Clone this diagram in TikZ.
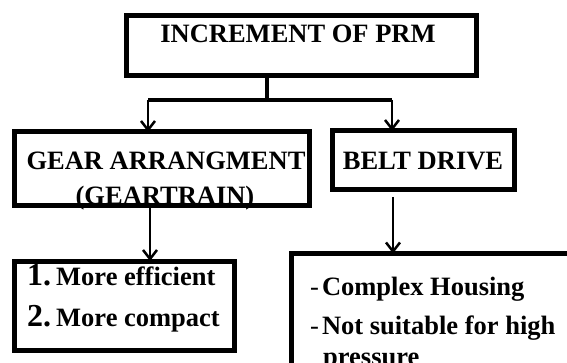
\documentclass[tikz,border=0pt]{standalone}
\usepackage{fontspec}
\setmainfont{Liberation Serif}
\usetikzlibrary{positioning,arrows.meta}

\begin{document}
\begin{tikzpicture}[
    x=1pt, y=-1pt,
    box/.style={draw=black, line width=5pt, inner sep=0pt, outer sep=0pt},
    lbl/.style={font=\fontsize{26.5}{30}\selectfont\bfseries, inner sep=0pt},
    wire/.style={draw=black, line width=4pt},
    arr/.style={draw=black, line width=2.5pt, -{Straight Barb[length=9pt,width=14pt]}},
  ]
  \useasboundingbox (0,0) rectangle (567,363);

  % Boxes.
  \node[box, minimum width=350pt, minimum height=60pt] (prm) at (301.5,45.5) {};
  \node[box, minimum width=295pt, minimum height=73.5pt] (gear) at (161.5,168.75) {};
  \node[box, minimum width=182pt, minimum height=58.5pt] (belt) at (423.5,160.25) {};
  \node[box, minimum width=220.5pt, minimum height=89pt] (pros) at (124.25,305.5) {};
  \node[box, anchor=north west, minimum width=320pt, minimum height=160pt] (cons) at (291.5,253.5) {};

  % Labels.
  \node[lbl, anchor=base] (prmtxt) at (298,43) {INCREMENT OF PRM};
  \node[lbl, anchor=base] (geartxt) at (166,170) {GEAR ARRANGMENT};
  \node[lbl, anchor=base] (geartrain) at (165,205) {(GEARTRAIN)};
  \node[lbl, anchor=base] (belttxt) at (423,170) {BELT DRIVE};
  \node[lbl, anchor=base west] (pro1) at (27,285) {{\fontsize{32}{36}\selectfont 1.}\hspace{5pt}More efficient};
  \node[lbl, anchor=base west] (pro2) at (27,326) {{\fontsize{32}{36}\selectfont 2.}\hspace{5pt}More compact};
  \node[lbl, anchor=base west] (con1) at (310,295) {{\mdseries -}\hspace{3pt}Complex Housing};
  \node[lbl, anchor=base west] (con2) at (310,334) {{\mdseries -}\hspace{3pt}Not suitable for high};
  \node[lbl, anchor=base west] (con3) at (323,365) {pressure};

  % Connectors.
  \coordinate (split) at (267,100);
  \coordinate (gdrop) at (148,100);
  \coordinate (bdrop) at (392,100);
  \draw[wire] (prm.south -| split) -- (split);
  \draw[wire] (gdrop) -- (bdrop);
  \draw[arr] (gdrop) -- (gdrop |- gear.north);
  \draw[arr] (bdrop) -- (bdrop |- belt.north);
  \draw[arr] ([xshift=-11.5]gear.south) -- ([xshift=-11.5]gear.south |- pros.north);
  \draw[arr] ([shift={(-30.5,7.5)}]belt.south) -- ([xshift=-30.5]belt.south |- cons.north);
\end{tikzpicture}
\end{document}
